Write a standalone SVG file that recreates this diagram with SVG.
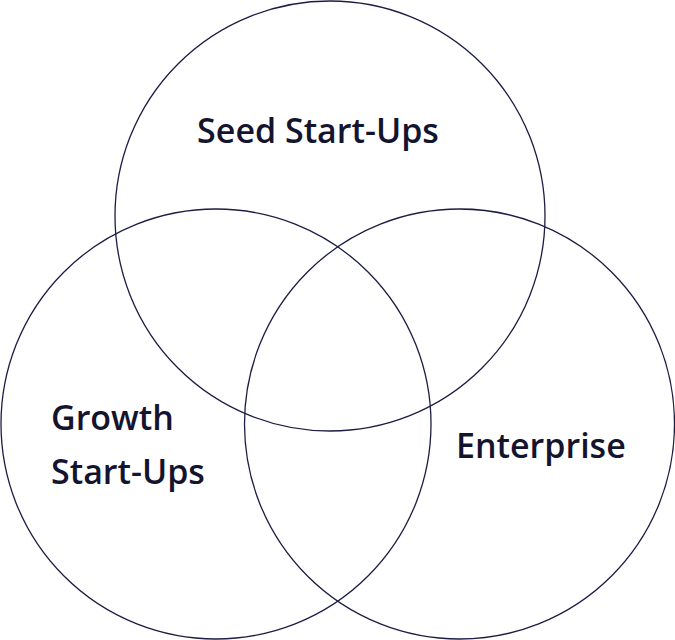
<svg xmlns="http://www.w3.org/2000/svg" width="675" height="640" viewBox="0 0 675 640">
<style>
.c{fill:none;stroke:#1c1c44;stroke-width:1.3}
.t{font-family:"Open Sans","Noto Sans",sans-serif;font-weight:600;font-size:34px;fill:#14142e}
</style>
<rect width="675" height="640" fill="#ffffff"/>
<g id="seed"><circle class="c" cx="330" cy="216" r="215"/><text class="t" x="318" y="143" text-anchor="middle">Seed Start-Ups</text></g>
<g id="growth"><circle class="c" cx="216" cy="424" r="215"/><text class="t" x="51" y="430">Growth</text><text class="t" x="51" y="484">Start-Ups</text></g>
<g id="enterprise"><circle class="c" cx="459.5" cy="424" r="215"/><text class="t" x="456" y="458">Enterprise</text></g>
<g id="connectors"></g>
</svg>
